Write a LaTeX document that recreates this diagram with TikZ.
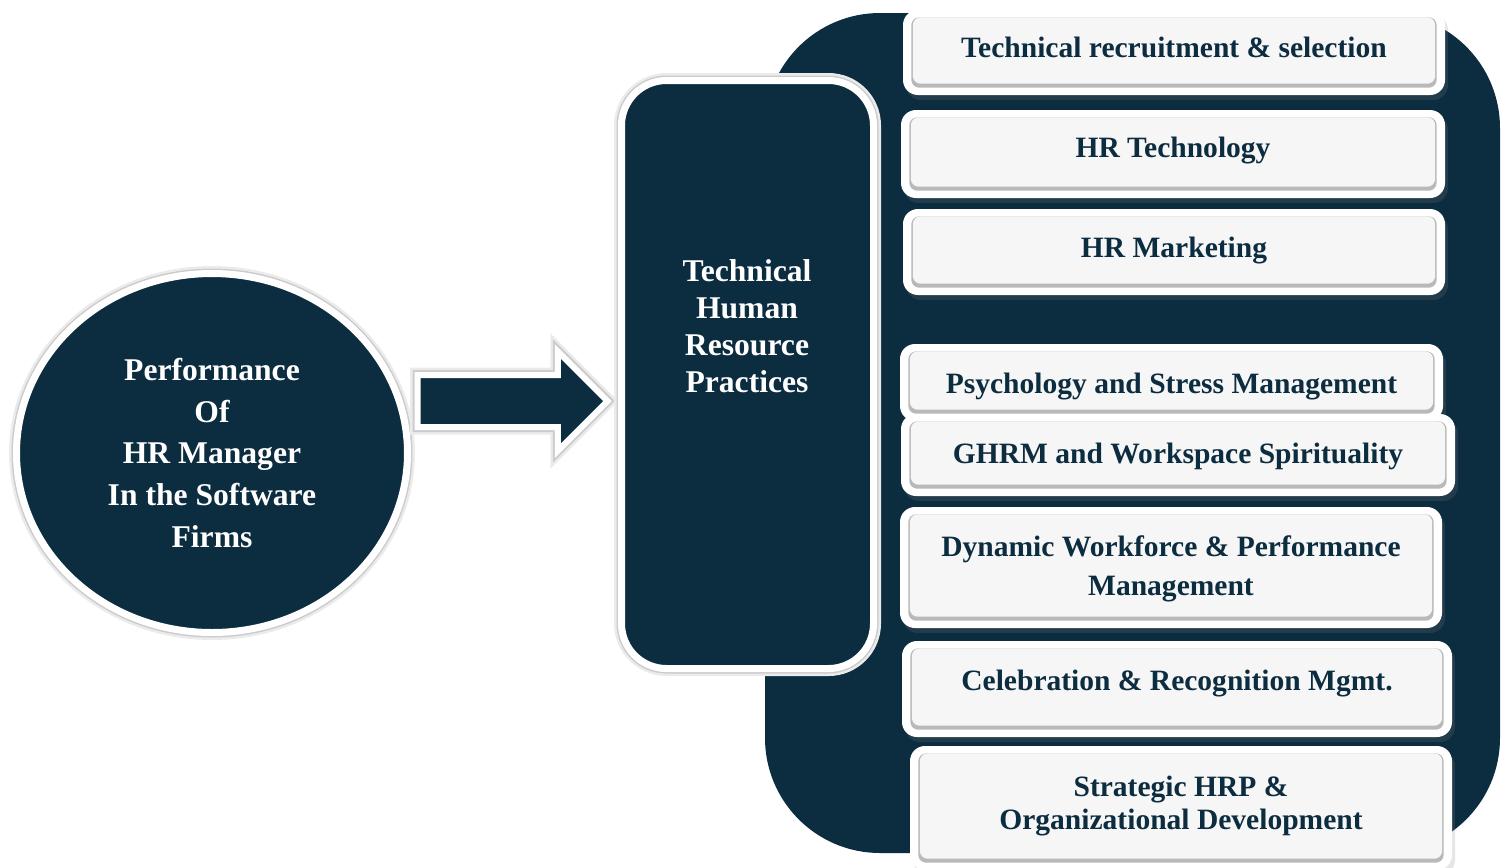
\documentclass[tikz,border=0pt]{standalone}
\usepackage{fontspec}
\setmainfont{Liberation Serif}
\usetikzlibrary{shapes.geometric,shapes.arrows,shadows,calc}

\definecolor{hrnavy}{RGB}{12,44,64}
\definecolor{boxface}{RGB}{246,246,246}

\tikzset{
  px/.style={x=0.1mm,y=-0.1mm},
  softshadow/.style={drop shadow={opacity=0.2, shadow xshift=0.3mm, shadow yshift=-0.5mm}},
  halo/.style={preaction={draw=black!8, line width=1.5mm},
    preaction={draw=black!20, line width=1.0mm}},
  hub/.style={ellipse, fill=hrnavy, draw=white, line width=0.7mm, inner sep=0pt,
    text=white, align=center, font=\bfseries\fontsize{9}{11.9}\selectfont, softshadow, halo},
  flow/.style={single arrow, fill=hrnavy, draw=white, line width=0.6mm,
    single arrow head extend=2.35mm, inner xsep=0pt, inner ysep=2.3mm,
    minimum height=1.9cm, softshadow, halo},
  practices/.style={rectangle, rounded corners=4.5mm, fill=hrnavy, draw=white,
    line width=0.7mm, minimum width=2.52cm, minimum height=5.88cm, softshadow, halo},
  headtext/.style={text=white, align=center, font=\bfseries\fontsize{9}{10.5}\selectfont},
  outerbox/.style={rectangle, rounded corners=1.5mm, fill=white, inner sep=0pt, softshadow},
  bevel/.style={fill=gray!55, rounded corners=0.8mm},
  face/.style={fill=boxface, rounded corners=0.8mm},
  boxtext/.style={text=hrnavy, align=center, font=\bfseries\fontsize{8.4}{11}\selectfont},
}

\begin{document}
\begin{tikzpicture}[px]
\useasboundingbox (0,0) rectangle (1507,867);

% dark backdrop behind the list
\fill[hrnavy, rounded corners=1.15cm] (765,13) rectangle (1500,853);

\node[hub, minimum width=3.91cm, minimum height=3.59cm] (perf) at (212,453)
  {Performance\\Of\\HR Manager\\In the Software\\Firms};

\node[flow] (link) at (499.5,401) {};

\node[practices] (thrp) at (747.5,374.5) {};
\node[headtext] (thrp-text) at (747,326) {Technical\\Human\\Resource\\Practices};

% practice boxes: name/x/y/width/height/text y/text
\foreach \name/\x/\y/\w/\h/\ty/\txt in {
  rec/1174/52.5/542/85/47/{Technical recruitment \& selection},
  tech/1173/154/544/88/151/{HR Technology},
  mkt/1174/252/542/86/251/{HR Marketing},
  psy/1171.5/382.5/543/77/386/{Psychology and Stress Management},
  ghrm/1178/455/554/82/456/{GHRM and Workspace Spirituality},
  dyn/1171/567.5/542/121/569/{Dynamic Workforce \& Performance\\Management},
  cel/1177/689/550/96/684/{Celebration \& Recognition Mgmt.},
  strat/1181/808/542/124/806/{Strategic HRP \&\\[-1.6pt]Organizational Development}}
{
  \node[outerbox, minimum width=\w*0.1mm, minimum height=\h*0.1mm] (\name) at (\x,\y) {};
  \fill[bevel] ($(\name.south west)+(9,-8)$) rectangle ($(\name.north east)+(-9,8)$);
  \fill[face] ($(\name.south west)+(10.5,-12)$) rectangle ($(\name.north east)+(-10.5,8)$);
  \node[boxtext] (\name-text) at (\x,\ty) {\txt};
}
\end{tikzpicture}
\end{document}
